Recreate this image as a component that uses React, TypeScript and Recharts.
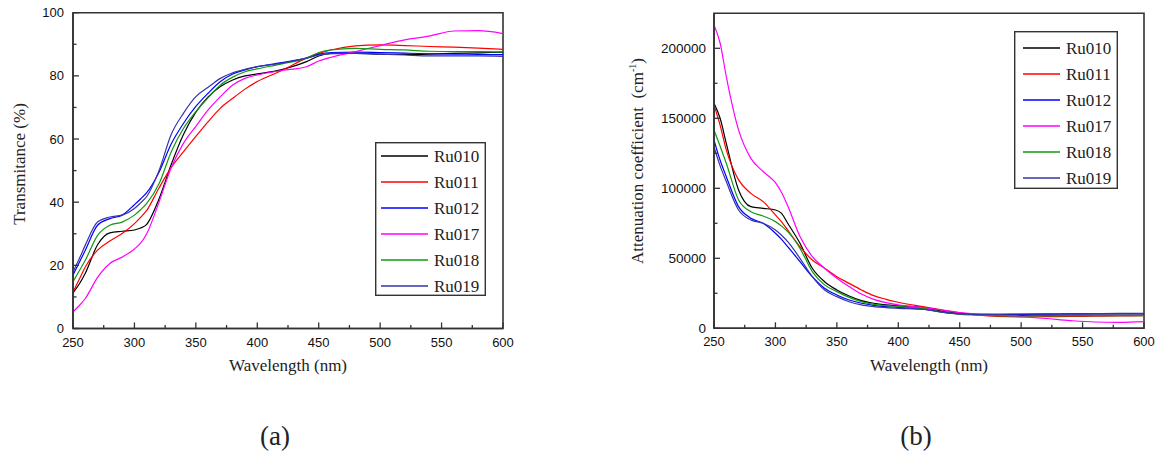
import { Legend, Line, LineChart, ReferenceArea, XAxis, YAxis } from "recharts";

// wavelength grid (nm) shared by both panels
const wavelengths = [
  250, 255, 260, 270, 280, 290, 300, 305, 310, 320, 330, 340, 350, 360, 370,
  380, 390, 400, 420, 440, 450, 460, 480, 500, 520, 540, 560, 580, 600,
];

const sampleNames = ["Ru010", "Ru011", "Ru012", "Ru017", "Ru018", "Ru019"];
const sampleColors = ["#000000", "#ff0000", "#0000ff", "#ff00ff", "#119911", "#3535a8"];

// (a) transmittance, %
const transRu010 = [11.3, 14, 17.5, 26.5, 30.3, 30.8, 31.2, 31.8, 33, 41, 52, 61.5, 68.5, 73.3, 76.6, 78.7, 80, 80.6, 82, 84.5, 86.3, 87, 87.1, 86.9, 86.8, 86.9, 87.1, 87.3, 87.5];
const transRu011 = [11.5, 15.5, 19.5, 24.8, 27.7, 30.1, 33.2, 35.2, 37.4, 44.5, 51, 56, 60.8, 65.5, 69.8, 72.9, 75.8, 78.2, 81.7, 85.6, 87.1, 88.2, 89.5, 89.8, 89.6, 89.3, 89.1, 88.8, 88.4];
const transRu012 = [16.9, 20.8, 24.8, 32.7, 34.8, 35.9, 39.2, 41, 43, 49.5, 58.5, 65, 70.3, 74.5, 78.2, 80.6, 81.9, 82.9, 84.2, 85.6, 86.8, 87.4, 87.5, 87.4, 87.2, 87, 86.9, 86.8, 86.7];
const transRu017 = [5.3, 7.2, 9.5, 16.2, 20.6, 22.6, 25.2, 27, 30, 40, 51, 58.7, 64, 69.2, 73.4, 77.1, 79.2, 80.3, 81.7, 82.9, 84.7, 85.9, 87.7, 89.6, 91.4, 92.6, 94.2, 94.3, 93.4];
const transRu018 = [14.8, 18.2, 21.6, 29.5, 32.7, 33.7, 35.9, 37.6, 39.6, 45.8, 56, 63.4, 68.7, 73.1, 77.1, 79.6, 81.3, 82.2, 83.8, 85.6, 87.4, 88.2, 88.7, 88.4, 88.2, 87.8, 87.7, 87.7, 87.6];
const transRu019 = [17.9, 22, 26.4, 33.7, 35.3, 35.9, 38, 39.8, 41.8, 50, 61.5, 68.2, 73.4, 76.4, 79.2, 81, 82.1, 82.9, 84, 85.6, 86.6, 87.1, 87.1, 86.9, 86.6, 86.3, 86.3, 86.3, 86.2];

// (b) attenuation coefficient, cm^-1
const attRu010 = [160700, 150000, 132100, 98800, 86900, 85700, 84500, 82100, 75000, 60700, 42900, 33300, 27400, 23100, 19800, 17900, 16700, 16000, 14800, 11500, 10500, 10000, 9500, 9300, 9400, 9500, 9500, 9500, 9500];
const attRu011 = [159500, 145000, 127400, 106000, 96400, 90500, 81000, 76000, 70200, 58300, 48800, 42900, 36900, 32100, 27400, 23300, 20700, 18600, 15500, 12500, 11000, 10000, 8500, 8200, 8300, 8500, 8600, 8800, 9000];
const attRu012 = [134500, 120000, 108300, 86900, 78600, 75000, 67900, 63500, 58300, 47600, 36900, 28600, 23800, 20200, 17900, 16400, 15500, 15000, 13600, 11000, 10300, 10000, 10000, 10000, 10100, 10300, 10400, 10500, 10500];
const attRu017 = [216700, 203600, 179800, 141700, 121400, 112000, 104000, 97000, 87500, 65500, 51200, 42900, 35700, 29800, 24500, 20700, 18300, 16700, 14800, 12500, 11300, 10500, 9500, 8300, 7000, 5500, 4500, 4300, 4800];
const attRu018 = [141700, 130000, 117900, 91700, 83300, 80200, 76200, 73000, 69000, 57100, 40500, 31000, 26200, 22100, 19000, 17100, 16200, 15500, 14000, 11000, 10000, 9500, 9000, 8800, 8800, 9000, 9000, 9000, 9000];
const attRu019 = [129800, 116000, 104800, 84500, 77400, 75000, 70200, 66500, 61900, 50000, 36900, 27400, 22600, 19000, 16700, 15500, 14800, 14300, 13600, 11000, 10300, 10000, 10000, 10200, 10300, 10500, 10500, 10600, 10600];

const xTicks = [250, 275, 300, 325, 350, 375, 400, 425, 450, 475, 500, 525, 550, 575, 600];
const transTicks = [0, 10, 20, 30, 40, 50, 60, 70, 80, 90, 100];
const attTicks = [0, 25000, 50000, 75000, 100000, 125000, 150000, 175000, 200000];

const SERIF = '"Liberation Serif", "DejaVu Serif", "Times New Roman", Times, "Noto Serif", "Nimbus Roman", FreeSerif, serif';
const SANS = '"Liberation Sans", Arial, sans-serif';
const AXIS = "#333";

function toRows(cols: number[][]) {
  return wavelengths.map((w, i) => {
    const row: Record<string, number> = { w };
    sampleNames.forEach((n, k) => (row[n] = cols[k][i]));
    return row;
  });
}

const transData = toRows([transRu010, transRu011, transRu012, transRu017, transRu018, transRu019]);
const attData = toRows([attRu010, attRu011, attRu012, attRu017, attRu018, attRu019]);

// ticks point inward; only major ones get a label
const bottomTick = (fs: number) => (p: any) => {
  const { x, y, payload } = p;
  const major = payload.value % 50 === 0;
  return (
    <g>
      <line x1={x} x2={x} y1={y} y2={y - (major ? 6 : 3.5)} stroke={AXIS} strokeWidth={1.3} />
      {major && (
        <text x={x} y={y + 18} textAnchor="middle" fontSize={fs} fontFamily={SANS} fill="#111">
          {payload.value}
        </text>
      )}
    </g>
  );
};

const leftTick = (step: number, fs: number, gap: number) => (p: any) => {
  const { x, y, payload } = p;
  const major = payload.value % step === 0;
  return (
    <g>
      <line x1={x} x2={x + (major ? 6 : 3.5)} y1={y} y2={y} stroke={AXIS} strokeWidth={1.3} />
      {major && (
        <text x={x - gap} y={y + 4.5} textAnchor="end" fontSize={fs} fontFamily={SANS} fill="#111">
          {payload.value}
        </text>
      )}
    </g>
  );
};

function LegendBox(props: { w: number; h: number; padX: number; lineLen: number; first: number; step: number }) {
  const { w, h, padX, lineLen, first, step } = props;
  return (
    <svg width={w} height={h} style={{ display: "block", background: "#fff" }}>
      <rect x={0.7} y={0.7} width={w - 1.4} height={h - 1.4} fill="#fff" stroke={AXIS} strokeWidth={1.4} />
      {sampleNames.map((n, i) => {
        const cy = first + i * step;
        return (
          <g key={n}>
            <line x1={padX} x2={padX + lineLen} y1={cy} y2={cy} stroke={sampleColors[i]} strokeWidth={1.3} />
            <text x={padX + lineLen + 6} y={cy + 6} fontSize={17} fontFamily={SERIF} fill="#222">
              {n}
            </text>
          </g>
        );
      })}
    </svg>
  );
}

const text = (s: React.CSSProperties): React.CSSProperties => ({
  position: "absolute",
  fontFamily: SERIF,
  color: "#222",
  whiteSpace: "nowrap",
  ...s,
});

export default function App() {
  return (
    <div style={{ position: "absolute", left: 0, top: 0, width: 1157, height: 455, background: "#fff", overflow: "hidden" }}>
      {/* (a) transmittance */}
      <div style={{ position: "absolute", left: 0, top: 0 }}>
        <LineChart width={520} height={400} data={transData} margin={{ top: 12.7, right: 17, bottom: 41.5, left: 13 }}>
          <XAxis
            type="number"
            dataKey="w"
            domain={[250, 600]}
            ticks={xTicks}
            interval={0}
            tickSize={0}
            tickMargin={0}
            tickLine={false}
            tick={bottomTick(13)}
            axisLine={{ stroke: AXIS, strokeWidth: 1.6 }}
            allowDataOverflow
          />
          <YAxis
            type="number"
            domain={[0, 100]}
            ticks={transTicks}
            interval={0}
            tickSize={0}
            tickMargin={0}
            tickLine={false}
            tick={leftTick(20, 13, 9)}
            axisLine={{ stroke: AXIS, strokeWidth: 1.6 }}
            allowDataOverflow
          />
          <ReferenceArea x1={250} x2={600} y1={0} y2={100} fill="none" stroke={AXIS} strokeWidth={1.6} />
          {sampleNames.map((n, i) => (
            <Line key={n} type="monotone" dataKey={n} stroke={sampleColors[i]} strokeWidth={1.2} dot={false} isAnimationActive={false} />
          ))}
          <Legend
            layout="vertical"
            align="center"
            verticalAlign="middle"
            wrapperStyle={{ left: 375, top: 142, width: 111, height: 154 }}
            content={() => <LegendBox w={111} h={154} padX={6} lineLen={47} first={14} step={26} />}
          />
        </LineChart>
      </div>

      {/* (b) attenuation coefficient */}
      <div style={{ position: "absolute", left: 580, top: 0 }}>
        <LineChart width={577} height={400} data={attData} margin={{ top: 13.3, right: 13, bottom: 41.7, left: 74 }}>
          <XAxis
            type="number"
            dataKey="w"
            domain={[250, 600]}
            ticks={xTicks}
            interval={0}
            tickSize={0}
            tickMargin={0}
            tickLine={false}
            tick={bottomTick(13)}
            axisLine={{ stroke: AXIS, strokeWidth: 1.6 }}
            allowDataOverflow
          />
          <YAxis
            type="number"
            domain={[0, 225000]}
            ticks={attTicks}
            interval={0}
            tickSize={0}
            tickMargin={0}
            tickLine={false}
            tick={leftTick(50000, 13.5, 8)}
            axisLine={{ stroke: AXIS, strokeWidth: 1.6 }}
            allowDataOverflow
          />
          <ReferenceArea x1={250} x2={600} y1={0} y2={225000} fill="none" stroke={AXIS} strokeWidth={1.6} />
          {sampleNames.map((n, i) => (
            <Line key={n} type="monotone" dataKey={n} stroke={sampleColors[i]} strokeWidth={1.2} dot={false} isAnimationActive={false} />
          ))}
          <Legend
            layout="vertical"
            align="center"
            verticalAlign="middle"
            wrapperStyle={{ left: 434, top: 31, width: 104, height: 158 }}
            content={() => <LegendBox w={104} h={158} padX={9} lineLen={37} first={17} step={26} />}
          />
        </LineChart>
      </div>

      {/* axis titles and panel captions */}
      <div style={text({ left: 19.5, top: 164, fontSize: 17, transform: "translate(-50%, -50%) rotate(-90deg)" })}>
        Transmitance (%)
      </div>
      <div style={text({ left: 288, top: 371, fontSize: 17, transform: "translate(-50%, -75%)" })}>Wavelength (nm)</div>
      <div style={text({ left: 637, top: 161, fontSize: 17, transform: "translate(-50%, -50%) rotate(-90deg)" })}>
        Attenuation coefficient&nbsp; (cm<span style={{ fontSize: 10, verticalAlign: "7px" }}>-1</span>)
      </div>
      <div style={text({ left: 929, top: 371, fontSize: 17, transform: "translate(-50%, -75%)" })}>Wavelength (nm)</div>
      <div style={text({ left: 275, top: 436, fontSize: 27, transform: "translate(-50%, -50%)" })}>(a)</div>
      <div style={text({ left: 916, top: 436, fontSize: 27, transform: "translate(-50%, -50%)" })}>(b)</div>
    </div>
  );
}
